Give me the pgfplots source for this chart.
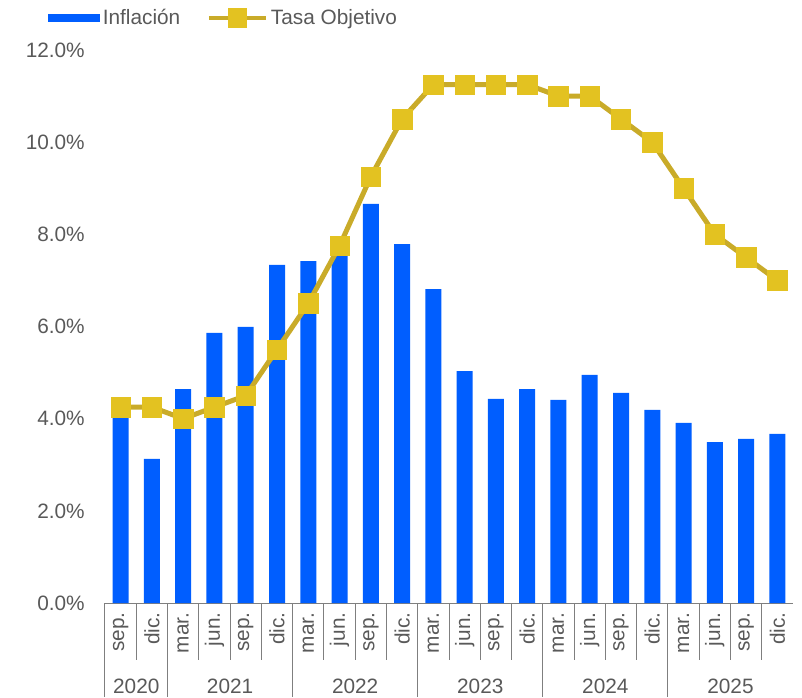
\documentclass[border=0pt]{standalone}
\usepackage{fontspec}
\setmainfont{Liberation Sans}
\usepackage{pgfplots}
\pgfplotsset{compat=1.18}
\definecolor{barblue}{HTML}{005EFF}
\definecolor{goldline}{HTML}{C9AB29}
\definecolor{goldmark}{HTML}{E3C221}
\definecolor{txtgray}{HTML}{595959}
\definecolor{axgray}{HTML}{7F7F7F}

\begin{document}
\begin{tikzpicture}
\path[use as bounding box] (-78.75pt,-70.5pt) rectangle (522.75pt,452.25pt);
\begin{axis}[
    at={(0pt,0pt)}, anchor=south west,
    scale only axis, width=516pt, height=414.75pt,
    clip=false,
    xmin=-0.5, xmax=21.5, ymin=0, ymax=12,
    axis x line*=bottom, axis y line*=left,
    x axis line style={draw=axgray, line width=0.75pt},
    y axis line style={draw=none},
    major tick length=0pt,
    font=\fontsize{15.6}{18}\selectfont,
    ytick={0,2,...,12},
    yticklabel={\pgfmathprintnumber[fixed,fixed zerofill,precision=1]{\tick}\%},
    /pgf/number format/assume math mode=true,
    yticklabel style={text=txtgray, inner sep=0pt, xshift=-15pt},
    xtick={0,...,21},
    xticklabels={sep.,dic.,mar.,jun.,sep.,dic.,mar.,jun.,sep.,dic.,mar.,jun.,sep.,dic.,mar.,jun.,sep.,dic.,mar.,jun.,sep.,dic.},
    xticklabel style={text=txtgray, rotate=90, anchor=east, inner sep=0pt},
    xticklabel shift=7pt,
    legend columns=2,
    legend style={draw=none, fill=none, at={(-0.083,1.058)}, anchor=west,
        text=txtgray, inner sep=0pt,
        /tikz/every even column/.append style={column sep=18pt}},
]
\addplot[ybar, bar width=12pt, fill=barblue, draw=none,
    legend image code/.code={\fill[barblue] (0pt,-3pt) rectangle (39pt,3pt);}]
coordinates {
    (0,4.01) (1,3.13) (2,4.64) (3,5.86) (4,5.99) (5,7.34)
    (6,7.42) (7,7.94) (8,8.66) (9,7.79) (10,6.81) (11,5.03)
    (12,4.43) (13,4.64) (14,4.41) (15,4.95) (16,4.56) (17,4.19)
    (18,3.91) (19,3.49) (20,3.56) (21,3.67)
};
\addlegendentry{Inflación}
\addplot[goldline, line width=3.75pt, mark=square*, mark size=7.3pt,
    mark options={solid, line width=0.4pt, draw=goldmark, fill=goldmark},
    legend image code/.code={\draw[goldline, line width=3pt] (0pt,0pt) -- (43pt,0pt);
        \fill[goldmark] (16pt,-5.5pt) rectangle (27pt,5.5pt);}]
coordinates {
    (0,4.25) (1,4.25) (2,4.00) (3,4.25) (4,4.50) (5,5.50)
    (6,6.50) (7,7.75) (8,9.25) (9,10.50) (10,11.25) (11,11.25)
    (12,11.25) (13,11.25) (14,11.00) (15,11.00) (16,10.50) (17,10.00)
    (18,9.00) (19,8.00) (20,7.50) (21,7.00)
};
\addlegendentry{Tasa Objetivo}

\pgfplotsinvokeforeach{0.5,2.5,3.5,4.5,6.5,7.5,8.5,10.5,11.5,12.5,14.5,15.5,16.5,18.5,19.5,20.5}{
    \draw[axgray, line width=0.75pt] (axis cs:#1,0) -- ++(0pt,-42.75pt);
}
\pgfplotsinvokeforeach{-0.5,1.5,5.5,9.5,13.5,17.5}{
    \draw[axgray, line width=0.75pt] (axis cs:#1,0) -- ++(0pt,-70.5pt);
}
\node[text=txtgray, anchor=base] at ([yshift=-68pt]axis cs:0.5,0) {2020};
\node[text=txtgray, anchor=base] at ([yshift=-68pt]axis cs:3.5,0) {2021};
\node[text=txtgray, anchor=base] at ([yshift=-68pt]axis cs:7.5,0) {2022};
\node[text=txtgray, anchor=base] at ([yshift=-68pt]axis cs:11.5,0) {2023};
\node[text=txtgray, anchor=base] at ([yshift=-68pt]axis cs:15.5,0) {2024};
\node[text=txtgray, anchor=base] at ([yshift=-68pt]axis cs:19.5,0) {2025};
\end{axis}
\end{tikzpicture}
\end{document}
